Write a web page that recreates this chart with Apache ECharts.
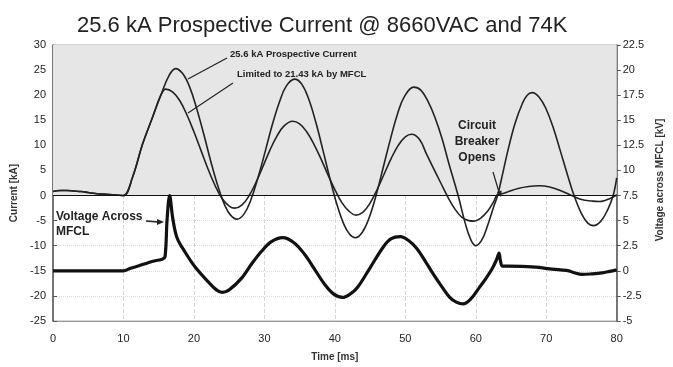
<!DOCTYPE html>
<html>
<head>
<meta charset="utf-8">
<script src="https://cdn.jsdelivr.net/npm/echarts@6/dist/echarts.min.js"></script>
<style>
  html, body { margin: 0; padding: 0; background: #fff; }
  #chart { width: 673px; height: 367px; }
</style>
</head>
<body>
<div id="chart"></div>
<script>
// [time ms, current kA]
const prospective = [
  [0,0.8],[1,1.0],[2,1.0],[3,0.9],[4,0.8],[5,0.6],[6,0.4],[7,0.3],[8,0.2],[9,0.1],[10,0],
  [11.3,3.7],[12.7,10.2],[14.1,15.5],[15.3,20],[16.5,24],[17.4,25.3],
  [18.4,24.3],[19.4,21.6],[20.4,17.3],[21.4,12.2],[22.4,6.8],[23.4,1.9],[24.4,-2],[25.2,-3.9],[26.1,-4.7],
  [27.1,-3.7],[28.1,-0.8],[29.1,3.6],[30.1,8.7],[31.1,14],[32.1,18.5],[33.1,21.8],[34.3,23.2],
  [35.3,22.2],[36.3,19.2],[37.3,14.6],[38.3,9.1],[39.3,3.4],[40.3,-1.8],[41.3,-5.8],[42.1,-7.7],[42.9,-8.4],
  [43.9,-7.3],[44.9,-4.3],[45.9,0.3],[46.9,5.8],[47.9,11.3],[48.9,16.3],[49.9,19.8],[51.2,21.6],
  [52.2,21.0],[53.2,18.8],[54.2,15.6],[55.2,11.4],[56.2,6.3],[57.5,0],[58.5,-5.5],[59.3,-8.8],[60,-10],
  [60.8,-9],[61.6,-6.3],[62.6,-2],[63.1,0],[63.6,3],[64.6,9.2],[65.6,14.5],[66.6,18.3],[67.3,20],[68,20.5],
  [69,19.6],[70,17.2],[71,13.5],[72,8.9],[73,4.2],[74,-0.2],[75,-3.6],[75.9,-5.5],[76.7,-6],
  [77.7,-5.2],[78.7,-2.9],[79.5,0],[80,3.5]
];
const limited = [
  [0,0.8],[1,1.0],[2,1.0],[3,0.9],[4,0.8],[5,0.6],[6,0.4],[7,0.3],[8,0.2],[9,0.1],[10,0],
  [11.3,3.7],[12.7,10.2],[14.1,15.5],[15.3,20],[16,21.2],
  [17,20.6],[18,18.9],[19,16.1],[20,12.7],[21,9],[22,5.3],[23,2],[24,-0.6],[25,-2.1],[25.8,-2.5],
  [26.8,-1.9],[27.8,-0.1],[28.8,2.6],[29.8,5.8],[30.8,9.1],[31.8,11.9],[32.8,13.9],[34,14.8],
  [35,14.3],[36,12.7],[37,10.3],[38,7.4],[39,4.2],[40,1.2],[41,-1.4],[42,-3.1],[43,-3.9],
  [44,-3.3],[45,-1.5],[46,1.2],[47,4.3],[48,7.4],[49,10],[50,11.7],[50.9,12.2],
  [52,11.2],[53,8.3],[54,5.4],[55,2.6],[56,-0.2],[57,-2.6],[58,-4.3],[59,-5.0],[59.7,-5.1],
  [60.7,-4.5],[61.7,-3.1],[62.5,-1.3],[63.1,0.2],[63.6,0.3],[64.5,0.7],[66,1.4],[67.5,1.8],
  [69,1.95],[70.5,1.7],[72,1.0],[73.6,0],[75,-0.8],[76.5,-1.1],[77.5,-1.2],[78.5,-0.9],[79.5,-0.3],[80,0.2]
];
// [time ms, voltage kV]
const voltage = [
  [0,0],[2,0],[4,0],[6,0],[8,0],[10,0],[11,0.25],[12.2,0.5],[13.5,0.8],[14.5,1.0],[15.5,1.15],[15.9,1.4],
  [16.2,5.2],[16.55,7.5],[17,5.2],[17.6,3.3],[18.8,1.8],[20.2,0.35],[22.1,-1.15],[23.2,-1.9],[24,-2.15],
  [25,-1.9],[26.8,-0.7],[28.2,0.7],[29.6,1.95],[31,2.9],[32.6,3.3],[34.2,2.8],[35.7,1.65],[37,0.3],
  [38.5,-1.3],[39.8,-2.3],[41.1,-2.65],[42.2,-2.3],[43.2,-1.67],[45,0.3],[46.9,2.4],[48,3.2],[49.3,3.4],
  [50.5,3.0],[51.6,2.26],[52.8,1.0],[54,-0.36],[55.2,-1.6],[56.3,-2.65],[57.3,-3.15],[58.2,-3.3],
  [59.3,-2.8],[60.5,-1.67],[61.5,-0.7],[62.4,0.3],[63,1.2],[63.3,1.77],[63.5,1.0],[63.8,0.46],[64.7,0.46],
  [66.5,0.45],[68.5,0.36],[70.5,0.2],[72,0.1],[73.2,0],[74,-0.2],[75.1,-0.36],[76.5,-0.3],[77.9,-0.2],
  [79,-0.05],[80,0.1]
];

const timeTicks = [0, 10, 20, 30, 40, 50, 60, 70, 80];
const currentRange = [-25, 30];
const voltageRange = [-5, 22.5];

const font = "Arial, 'Liberation Sans', sans-serif";
const chart = echarts.init(document.getElementById("chart"));

chart.setOption({
  animation: false,
  backgroundColor: "#fff",
  title: {
    text: "25.6 kA Prospective Current @ 8660VAC and 74K",
    left: 72,
    top: 10,
    textStyle: { fontFamily: font, fontSize: 22, fontWeight: "normal", color: "#222" },
  },
  grid: { left: 53, right: 51, top: 45, bottom: 42, show: true, borderColor: "#aaa", borderWidth: 1 },
  xAxis: {
    type: "value",
    min: timeTicks[0],
    max: timeTicks[timeTicks.length - 1],
    interval: 10,
    name: "Time [ms]",
    nameLocation: "middle",
    nameGap: 31,
    nameTextStyle: { fontFamily: font, fontSize: 10, fontWeight: "bold", color: "#333" },
    axisLine: { onZero: false, lineStyle: { color: "#999" } },
    axisTick: { show: false },
    axisLabel: { fontFamily: font, fontSize: 11, color: "#222", margin: 12 },
    splitLine: { show: true, lineStyle: { color: "#d6d6d6", type: "dashed" } },
  },
  yAxis: [
    {
      type: "value",
      min: currentRange[0],
      max: currentRange[1],
      interval: 5,
      name: "Current [kA]",
      nameLocation: "middle",
      nameRotate: 90,
      nameGap: 30,
      nameTextStyle: { fontFamily: font, fontSize: 10, fontWeight: "bold", color: "#333", padding: [0, 20, 0, 0] },
      axisLine: { show: true, lineStyle: { color: "#555", width: 1.5 } },
      axisTick: { show: true, inside: true, length: 4, lineStyle: { color: "#555" } },
      axisLabel: { fontFamily: font, fontSize: 11, color: "#222", margin: 7 },
      splitLine: { show: true, lineStyle: { color: "#dcdcdc", type: "dotted" } },
    },
    {
      type: "value",
      min: voltageRange[0],
      max: voltageRange[1],
      interval: 2.5,
      name: "Voltage across MFCL [kV]",
      nameLocation: "middle",
      nameRotate: 90,
      nameGap: 36,
      nameTextStyle: { fontFamily: font, fontSize: 10, fontWeight: "bold", color: "#333", padding: [0, 0, 0, 6] },
      axisLine: { show: true, lineStyle: { color: "#555", width: 1.5 } },
      axisTick: { show: true, length: 4, lineStyle: { color: "#555" } },
      axisLabel: { fontFamily: font, fontSize: 11, color: "#222", margin: 6 },
      splitLine: { show: false },
    },
  ],
  series: [
    {
      name: "Prospective Current",
      type: "line",
      data: prospective,
      yAxisIndex: 0,
      smooth: 0.4,
      showSymbol: false,
      lineStyle: { color: "#222", width: 1.6 },
      markArea: {
        silent: true,
        itemStyle: { color: "#e6e6e6" },
        data: [[{ yAxis: 0 }, { yAxis: currentRange[1] }]],
      },
      markLine: {
        silent: true,
        symbol: "none",
        label: { show: false },
        lineStyle: { color: "#111", width: 1.2, type: "solid" },
        data: [{ yAxis: 0 }],
      },
    },
    {
      name: "Limited Current",
      type: "line",
      data: limited,
      yAxisIndex: 0,
      smooth: 0.4,
      showSymbol: false,
      lineStyle: { color: "#222", width: 1.6 },
    },
    {
      name: "Voltage Across MFCL",
      type: "line",
      data: voltage,
      yAxisIndex: 1,
      smooth: 0.35,
      showSymbol: false,
      lineStyle: { color: "#111", width: 3.2 },
    },
  ],
  graphic: [
    { type: "text", z: 100, left: 230, top: 49, style: { text: "25.6 kA Prospective Current", fontFamily: font, fontSize: 9.5, fontWeight: "bold", fill: "#222" } },
    { type: "text", z: 100, left: 237, top: 69, style: { text: "Limited to 21.43 kA by MFCL", fontFamily: font, fontSize: 9.5, fontWeight: "bold", fill: "#222" } },
    { type: "line", z: 100, shape: { x1: 188, y1: 79, x2: 227, y2: 58 }, style: { stroke: "#222", lineWidth: 1.2 } },
    { type: "line", z: 100, shape: { x1: 188, y1: 113, x2: 233, y2: 83 }, style: { stroke: "#222", lineWidth: 1.2 } },
    { type: "text", z: 100, x: 477, y: 142, style: { text: "Circuit\nBreaker\nOpens", align: "center", verticalAlign: "middle", lineHeight: 16, fontFamily: font, fontSize: 12, fontWeight: "bold", fill: "#222" } },
    { type: "line", z: 100, shape: { x1: 493, y1: 172, x2: 499, y2: 192 }, style: { stroke: "#222", lineWidth: 1.2 } },
    { type: "polygon", z: 100, shape: { points: [[501, 197], [501.7, 190.6], [496.9, 192]] }, style: { fill: "#222" } },
    { type: "text", z: 100, left: 56, top: 209, style: { text: "Voltage Across\nMFCL", lineHeight: 15, fontFamily: font, fontSize: 12, fontWeight: "bold", fill: "#222" } },
    { type: "line", z: 100, shape: { x1: 146, y1: 221, x2: 158, y2: 222 }, style: { stroke: "#222", lineWidth: 1.5 } },
    { type: "polygon", z: 100, shape: { points: [[164, 222], [157, 219], [157, 225]] }, style: { fill: "#222" } },
  ],
});
</script>
</body>
</html>
